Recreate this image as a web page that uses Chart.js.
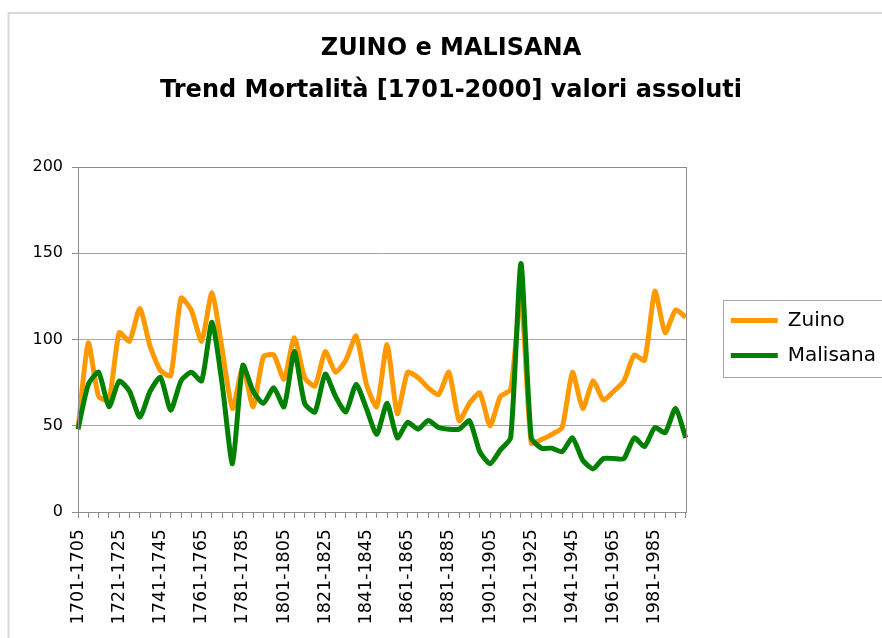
<!DOCTYPE html>
<html>
<head>
<meta charset="utf-8">
<title>Zuino e Malisana - mortalità</title>
<script src="https://cdn.jsdelivr.net/npm/chart.js@4.4.1/dist/chart.umd.min.js"></script>
<style>
  html, body { margin: 0; padding: 0; background: #fff; overflow: hidden; }
</style>
</head>
<body>
<canvas id="chartMortalita" width="882" height="638"></canvas>
<script>
const grafico = document.getElementById('chartMortalita');

// Periodi quinquennali (categorie dell'asse X)
const periodi = [
  '1701-1705', '1706-1710', '1711-1715', '1716-1720', '1721-1725', '1726-1730',
  '1731-1735', '1736-1740', '1741-1745', '1746-1750', '1751-1755', '1756-1760',
  '1761-1765', '1766-1770', '1771-1775', '1776-1780', '1781-1785', '1786-1790',
  '1791-1795', '1796-1800', '1801-1805', '1806-1810', '1811-1815', '1816-1820',
  '1821-1825', '1826-1830', '1831-1835', '1836-1840', '1841-1845', '1846-1850',
  '1851-1855', '1856-1860', '1861-1865', '1866-1870', '1871-1875', '1876-1880',
  '1881-1885', '1886-1890', '1891-1895', '1896-1900', '1901-1905', '1906-1910',
  '1911-1915', '1916-1920', '1921-1925', '1926-1930', '1931-1935', '1936-1940',
  '1941-1945', '1946-1950', '1951-1955', '1956-1960', '1961-1965', '1966-1970',
  '1971-1975', '1976-1980', '1981-1985', '1986-1990', '1991-1995', '1996-2000'
];

// Morti per periodo (valori assoluti)
const zuino = [
  48, 98, 67, 65, 104, 99, 118, 96, 82, 79,
  124, 117, 99, 127, 94, 60, 84, 61, 90, 91,
  77, 101, 78, 73, 93, 81, 88, 102, 74, 61,
  97, 57, 81, 78, 72, 68, 81, 53, 63, 69,
  50, 67, 71, 126, 40, 42, 45, 49, 81, 60,
  76, 65, 70, 76, 91, 88, 128, 104, 117, 113
];
const malisana = [
  48, 74, 81, 61, 76, 70, 55, 70, 78, 59,
  76, 81, 76, 110, 74, 28, 85, 70, 63, 72,
  61, 93, 63, 58, 80, 67, 58, 74, 60, 45,
  63, 43, 52, 48, 53, 49, 48, 48, 53, 35,
  28, 36, 43, 144, 43, 37, 37, 35, 43, 30,
  25, 31, 31, 31, 43, 38, 49, 46, 60, 43
];

const titolo = ['ZUINO e MALISANA', 'Trend Mortalità [1701-2000] valori assoluti'];

Chart.defaults.font.family = '"DejaVu Sans", sans-serif';
Chart.defaults.color = '#000';

// cornici: bordo esterno, bordo area del grafico, riquadro legenda
const cornici = {
  id: 'cornici',
  beforeDraw(chart) {
    const ctx = chart.ctx;
    ctx.save();
    ctx.fillStyle = '#fff';
    ctx.fillRect(0, 0, chart.width, chart.height);
    ctx.strokeStyle = '#d9d9d9';
    ctx.lineWidth = 2;
    ctx.strokeRect(8.5, 13, chart.width + 20, chart.height + 20);
    ctx.restore();
  },
  afterLayout(chart) {
    // titolo e legenda spostati come nell'originale
    chart.titleBlock.left += 13;
    chart.titleBlock.right += 13;
    chart.legend.left += 30;
    chart.legend.right += 30;
    chart.legend.top += 10;
    chart.legend.bottom += 10;
  },
  afterDraw(chart) {
    const { ctx, chartArea: a, legend } = chart;
    ctx.save();
    ctx.strokeStyle = '#8c8c8c';
    ctx.lineWidth = 1;
    ctx.strokeRect(Math.round(a.left) + 0.5, Math.round(a.top) + 0.5,
      Math.round(a.right - a.left), Math.round(a.bottom - a.top));
    const hb = legend.legendHitBoxes;
    if (hb && hb.length) {
      const top = hb[0].top - 11;
      const bottom = hb[hb.length - 1].top + hb[hb.length - 1].height + 11;
      ctx.strokeStyle = '#a6a6a6';
      ctx.strokeRect(Math.round(hb[0].left) - 7.5, Math.round(top) + 0.5, 400, Math.round(bottom - top));
    }
    ctx.restore();
  }
};

const chartMortalita = new Chart(grafico, {
  type: 'line',
  data: {
    labels: periodi,
    datasets: [
      {
        label: 'Zuino',
        data: zuino,
        borderColor: '#ff9900',
        backgroundColor: '#ff9900',
        borderWidth: 5,
        pointRadius: 0,
        tension: 0.2,
        order: 2
      },
      {
        label: 'Malisana',
        data: malisana,
        borderColor: '#008000',
        backgroundColor: '#008000',
        borderWidth: 5,
        pointRadius: 0,
        tension: 0.2,
        order: 1
      }
    ]
  },
  options: {
    responsive: false,
    animation: false,
    layout: { padding: { left: 20, right: 26, top: 18, bottom: 0 } },
    plugins: {
      title: {
        display: true,
        text: titolo,
        color: '#000',
        font: { size: 24, weight: 'bold', lineHeight: 1.75 },
        padding: { top: 10, bottom: 55 }
      },
      legend: {
        position: 'right',
        labels: {
          boxWidth: 47,
          boxHeight: 5,
          padding: 15,
          color: '#000',
          font: { size: 20 },
          sort: (a, b) => a.datasetIndex - b.datasetIndex,
          generateLabels(chart) {
            return Chart.defaults.plugins.legend.labels.generateLabels(chart)
              .map(it => ({ ...it, fillStyle: it.strokeStyle, lineWidth: 0 }));
          }
        }
      },
      tooltip: { enabled: false }
    },
    scales: {
      x: {
        grid: { drawOnChartArea: false, tickLength: 6, color: '#8c8c8c' },
        border: { color: '#8c8c8c' },
        ticks: {
          autoSkip: false,
          minRotation: 90,
          maxRotation: 90,
          padding: 11,
          font: { size: 17.5 },
          callback: function (v, i) {
            return i % 4 === 0 ? this.getLabelForValue(v) : '';
          }
        },
        afterFit(s) { s.height = 126; }
      },
      y: {
        min: 0,
        max: 200,
        ticks: { stepSize: 50, padding: 9, font: { size: 16 } },
        grid: { color: '#a6a6a6', tickLength: 6, tickColor: '#8c8c8c' },
        border: { color: '#8c8c8c' },
        afterFit(s) { s.width = 58; }
      }
    }
  },
  plugins: [cornici]
});
</script>
</body>
</html>
